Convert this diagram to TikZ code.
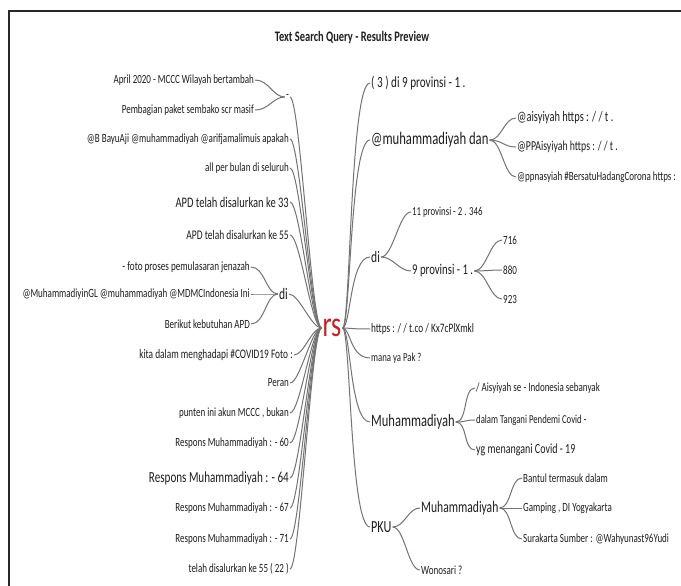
\documentclass[tikz,border=0pt]{standalone}
\usepackage{fontspec}
\setmainfont{Carlito}[FakeStretch=0.72]
\begin{document}
\begin{tikzpicture}[x=1pt,y=-1pt,
  txt/.style={inner sep=1pt,text={rgb,255:red,30;green,30;blue,30}},
  lt/.style={txt,anchor=east},
  rt/.style={txt,anchor=west},
  fz/.style={font=\fontsize{#1}{#1}\selectfont},
  fA/.style={font=\fontsize{12.5}{14}\selectfont},
  fC/.style={font=\fontsize{16}{18}\selectfont},
  br/.style={draw={rgb,255:red,115;green,115;blue,115},line width=1pt},
  every node/.append style={fA}]
\useasboundingbox (0,0) rectangle (681,586);
\fill[white] (0,0) rectangle (681,586);
\draw[line width=1.4pt,color={rgb,255:red,40;green,40;blue,40}] (9,586) -- (9,11) -- (681,11);
\node[txt,font=\bfseries\fontsize{14.5}{16}\selectfont] (title) at (352,38) {Text Search Query - Results Preview};
% root
\node[inner sep=1pt,text={rgb,255:red,205;green,30;blue,35},font=\fontsize{36}{40}\selectfont] (root) at (332,328) {rs};
% left side
\node[lt] (L1) at (290,97) {-};
\node[lt] (a1) at (255,80) {April 2020 - MCCC Wilayah bertambah};
\node[lt] (a2) at (255,110) {Pembagian paket sembako scr masif};
\node[lt] (L2) at (290,139) {@B BayuAji @muhammadiyah @arifjamalimuis apakah};
\node[lt] (L3) at (290,168) {all per bulan di seluruh};
\node[lt,fz=14.6] (L4) at (290,202) {APD telah disalurkan ke 33};
\node[lt,fz=13.2] (L5) at (290,235) {APD telah disalurkan ke 55};
\node[lt,fC] (L6) at (289,294) {di};
\node[lt,fz=12.7] (d1) at (251,267) {- foto proses pemulasaran jenazah};
\node[lt] (d2) at (251,294) {@MuhammadiyinGL @muhammadiyah @MDMCIndonesia Ini};
\node[lt] (d3) at (251,324) {Berikut kebutuhan APD};
\node[lt,fz=13] (L7) at (294,355) {kita dalam menghadapi \#COVID19 Foto :};
\node[lt] (L8) at (290,383) {Peran};
\node[lt] (L9) at (290,413) {punten ini akun MCCC , bukan};
\node[lt] (L10) at (290,443) {Respons Muhammadiyah : - 60};
\node[lt,fz=15.4] (L11) at (290,478) {Respons Muhammadiyah : - 64};
\node[lt] (L12) at (290,508) {Respons Muhammadiyah : - 67};
\node[lt] (L13) at (290,539) {Respons Muhammadiyah : - 71};
\node[lt] (L14) at (290,569) {telah disalurkan ke 55 ( 22 )};
% right side
\node[rt,fz=15.5] (R1) at (370,83) {( 3 ) di 9 provinsi - 1 .};
\node[rt,fz=17.6] (R2) at (370,140) {@muhammadiyah dan};
\node[rt,fz=14.5] (m1) at (516,118) {@aisyiyah https : / / t .};
\node[rt,fz=13.6] (m2) at (516,147) {@PPAisyiyah https : / / t .};
\node[rt] (m3) at (516,177) {@ppnasyiah \#BersatuHadangCorona https :};
\node[rt,fC] (R3) at (370,257) {di};
\node[rt,fz=12.2] (e1) at (411,212) {11 provinsi - 2 . 346};
\node[rt,fz=14.9] (e2) at (411,271) {9 provinsi - 1 .};
\node[rt] (f1) at (502,240) {716};
\node[rt] (f2) at (502,270) {880};
\node[rt] (f3) at (502,299) {923};
\node[rt,fz=12.9] (R4) at (370,329) {https : / / t.co / Kx7cPlXmkl};
\node[rt,fz=12.1] (R5) at (370,358) {mana ya Pak ?};
\node[rt,fz=17.4] (R6) at (370,422) {Muhammadiyah};
\node[rt] (g1) at (475,388) {/ Aisyiyah se - Indonesia sebanyak};
\node[rt,fz=12.1] (g2) at (475,420) {dalam Tangani Pendemi Covid -};
\node[rt,fz=13.9] (g3) at (475,450) {yg menangani Covid - 19};
\node[rt,fz=16.9] (R7) at (370,527) {PKU};
\node[rt,fz=16.1] (h1) at (420,508) {Muhammadiyah};
\node[rt] (h2) at (420,570) {Wonosari ?};
\node[rt] (k1) at (522,478) {Bantul termasuk dalam};
\node[rt] (k2) at (522,508) {Gamping , DI Yogyakarta};
\node[rt] (k3) at (522,539) {Surakarta Sumber : @Wahyunast96Yudi};
% left connectors
\foreach \n in {L1,L2,L3,L4,L5,L6,L7,L8,L9,L10,L11,L12,L13,L14}
  \draw[br] (\n.east) .. controls +(10,0) and +(-10,0) .. (root.west);
\foreach \n in {a1,a2}
  \draw[br] (\n.east) .. controls +(14,0) and +(-12,0) .. (L1.west);
\foreach \n in {d1,d2,d3}
  \draw[br] (\n.east) .. controls +(14,0) and +(-12,0) .. (L6.west);
% right connectors
\foreach \n in {R1,R2,R3,R4,R5,R6,R7}
  \draw[br] (root.east) .. controls +(8,0) and +(-20,0) .. (\n.west);
\foreach \n in {m1,m2,m3}
  \draw[br] (R2.east) .. controls +(12,0) and +(-12,0) .. (\n.west);
\foreach \n in {e1,e2}
  \draw[br] (R3.east) .. controls +(12,0) and +(-12,0) .. (\n.west);
\foreach \n in {f1,f2,f3}
  \draw[br] (e2.east) .. controls +(12,0) and +(-12,0) .. (\n.west);
\foreach \n in {g1,g2,g3}
  \draw[br] (R6.east) .. controls +(12,0) and +(-12,0) .. (\n.west);
\foreach \n in {h1,h2}
  \draw[br] (R7.east) .. controls +(12,0) and +(-12,0) .. (\n.west);
\foreach \n in {k1,k2,k3}
  \draw[br] (h1.east) .. controls +(12,0) and +(-12,0) .. (\n.west);
\end{tikzpicture}
\end{document}
